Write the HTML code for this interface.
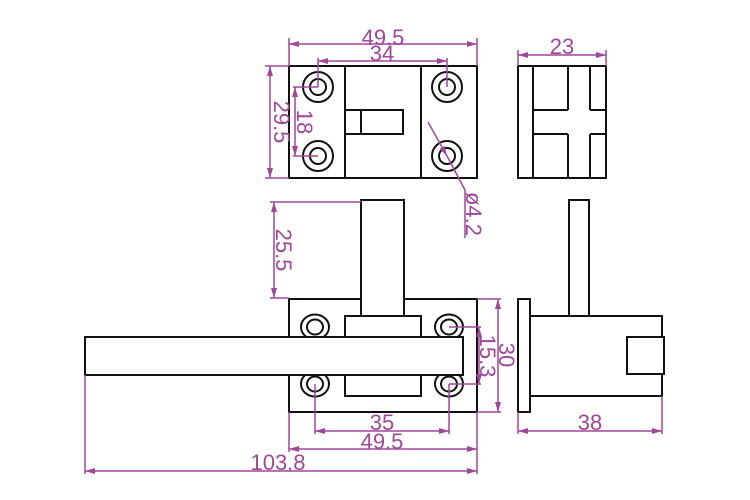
<!DOCTYPE html>
<html><head><meta charset="utf-8"><style>
html,body{margin:0;padding:0;background:#fff;}
svg{display:block;}
text{font-family:"Liberation Sans",sans-serif;font-size:22px;fill:#a0479a;}
</style></head><body>
<svg width="750" height="500" viewBox="0 0 750 500" xmlns="http://www.w3.org/2000/svg">
<defs>
<marker id="a" viewBox="0 0 10 6" refX="10" refY="3" markerWidth="10" markerHeight="6" orient="auto-start-reverse" markerUnits="userSpaceOnUse"><path d="M0,0 L10,3 L0,6 Z" fill="#a0479a"/></marker>
</defs>
<g fill="none" stroke="#111" stroke-width="2">
<rect x="289" y="66" width="188" height="112"/>
<line x1="345" y1="66" x2="345" y2="178"/>
<line x1="421" y1="66" x2="421" y2="178"/>
<rect x="345" y="110" width="58" height="24"/>
<line x1="361" y1="110" x2="361" y2="134"/>
<circle cx="318" cy="87" r="15"/><circle cx="318" cy="87" r="8"/>
<circle cx="447" cy="87" r="15"/><circle cx="447" cy="87" r="8"/>
<circle cx="318" cy="156" r="15"/><circle cx="318" cy="156" r="8"/>
<circle cx="447" cy="156" r="15"/><circle cx="447" cy="156" r="8"/>
<rect x="518" y="66" width="88" height="112"/>
<line x1="533" y1="66" x2="533" y2="178"/>
<line x1="568" y1="66" x2="568" y2="110"/>
<line x1="568" y1="134" x2="568" y2="178"/>
<line x1="533" y1="110" x2="568" y2="110"/>
<line x1="533" y1="134" x2="568" y2="134"/>
<line x1="590" y1="66" x2="590" y2="110"/>
<line x1="590" y1="134" x2="590" y2="178"/>
<line x1="590" y1="110" x2="606" y2="110"/>
<line x1="590" y1="134" x2="606" y2="134"/>
<rect x="289" y="299" width="188" height="113" fill="#fff"/>
<rect x="361" y="200" width="43" height="116" fill="#fff"/>
<rect x="345" y="316" width="76" height="80" fill="#fff"/>
<ellipse cx="315" cy="327" rx="14" ry="12.5" fill="#fff"/><ellipse cx="315" cy="327" rx="8" ry="7.5"/>
<ellipse cx="449" cy="327" rx="14" ry="12.5" fill="#fff"/><ellipse cx="449" cy="327" rx="8" ry="7.5"/>
<ellipse cx="315" cy="384" rx="14" ry="12.5" fill="#fff"/><ellipse cx="315" cy="384" rx="8" ry="7.5"/>
<ellipse cx="449" cy="384" rx="14" ry="12.5" fill="#fff"/><ellipse cx="449" cy="384" rx="8" ry="7.5"/>
<rect x="85" y="337" width="378" height="38" fill="#fff"/>
<rect x="569" y="200" width="20" height="116"/>
<rect x="518" y="299" width="12" height="113"/>
<rect x="530" y="316" width="132" height="80"/>
<rect x="627" y="337" width="37" height="37" fill="#fff"/>
</g>
<g fill="none" stroke="#a0479a" stroke-width="1.5">
<line x1="289" y1="38" x2="289" y2="66"/><line x1="477" y1="38" x2="477" y2="66"/>
<line x1="289" y1="44" x2="477" y2="44" marker-start="url(#a)" marker-end="url(#a)"/>
<line x1="318" y1="58" x2="318" y2="87"/><line x1="447" y1="58" x2="447" y2="87"/>
<line x1="318" y1="61" x2="447" y2="61" marker-start="url(#a)" marker-end="url(#a)"/>
<line x1="265" y1="66" x2="289" y2="66"/><line x1="265" y1="178" x2="289" y2="178"/>
<line x1="270" y1="66" x2="270" y2="178" marker-start="url(#a)" marker-end="url(#a)"/>
<line x1="293" y1="87" x2="318" y2="87"/><line x1="293" y1="156" x2="318" y2="156"/>
<line x1="295" y1="87" x2="295" y2="156" marker-start="url(#a)" marker-end="url(#a)"/>
<line x1="428" y1="122" x2="447" y2="156" marker-end="url(#a)"/>
<line x1="447" y1="156" x2="465" y2="190"/>
<line x1="465" y1="190" x2="465" y2="238"/>
<line x1="518" y1="50" x2="518" y2="66"/><line x1="606" y1="50" x2="606" y2="66"/>
<line x1="518" y1="55" x2="606" y2="55" marker-start="url(#a)" marker-end="url(#a)"/>
<line x1="270" y1="202" x2="361" y2="202"/><line x1="270" y1="298" x2="289" y2="298"/>
<line x1="274" y1="202" x2="274" y2="298" marker-start="url(#a)" marker-end="url(#a)"/>
<line x1="477" y1="299" x2="501" y2="299"/><line x1="477" y1="412" x2="501" y2="412"/>
<line x1="498" y1="299" x2="498" y2="412" marker-start="url(#a)" marker-end="url(#a)"/>
<line x1="449" y1="327" x2="481" y2="327"/><line x1="449" y1="384" x2="481" y2="384"/>
<line x1="479" y1="327" x2="479" y2="384" marker-start="url(#a)" marker-end="url(#a)"/>
<line x1="315" y1="384" x2="315" y2="434"/><line x1="449" y1="384" x2="449" y2="434"/>
<line x1="315" y1="431" x2="449" y2="431" marker-start="url(#a)" marker-end="url(#a)"/>
<line x1="289" y1="412" x2="289" y2="452"/>
<line x1="289" y1="449" x2="477" y2="449" marker-start="url(#a)" marker-end="url(#a)"/>
<line x1="85" y1="375" x2="85" y2="474"/><line x1="477" y1="412" x2="477" y2="474"/>
<line x1="85" y1="471" x2="477" y2="471" marker-start="url(#a)" marker-end="url(#a)"/>
<line x1="518" y1="412" x2="518" y2="434"/><line x1="662" y1="396" x2="662" y2="434"/>
<line x1="518" y1="431" x2="662" y2="431" marker-start="url(#a)" marker-end="url(#a)"/>
</g>
<g text-anchor="middle">
<text x="383" y="45">49.5</text>
<text x="382" y="61">34</text>
<text x="562" y="54">23</text>
<text x="382" y="430">35</text>
<text x="382" y="449">49.5</text>
<text x="278" y="470">103.8</text>
<text x="590" y="430">38</text>
<text transform="translate(274,122) rotate(90)">29.5</text>
<text transform="translate(297,122) rotate(90)">18</text>
<text transform="translate(466,214) rotate(90)">ø4.2</text>
<text transform="translate(276,250) rotate(90)">25.5</text>
<text transform="translate(499,355) rotate(90)">30</text>
<text transform="translate(480,356) rotate(90)">15.3</text>
</g>
</svg>
</body></html>
